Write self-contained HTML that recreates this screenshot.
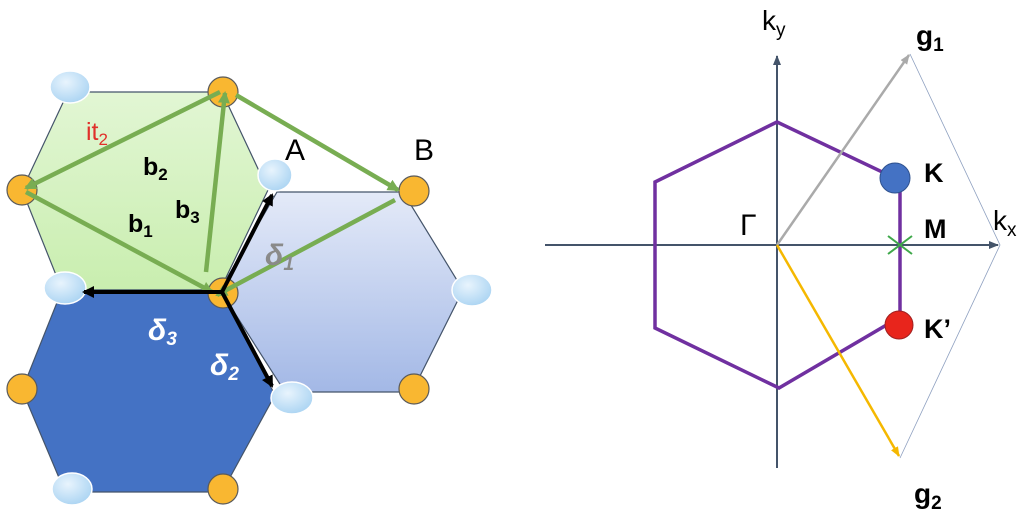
<!DOCTYPE html>
<html><head><meta charset="utf-8"><style>
html,body{margin:0;padding:0;background:#fff;}
svg{display:block;}
text{font-family:"Liberation Sans",sans-serif;}
</style></head><body>
<svg width="1024" height="512" viewBox="0 0 1024 512" xmlns="http://www.w3.org/2000/svg">
<defs>
<linearGradient id="lb" x1="0" y1="0" x2="0" y2="1"><stop offset="0" stop-color="#e4eaf8"/><stop offset="1" stop-color="#a3b8e6"/></linearGradient>
<linearGradient id="lg" x1="0" y1="0" x2="0" y2="1"><stop offset="0" stop-color="#e2f6d4"/><stop offset="1" stop-color="#c9eeaf"/></linearGradient>
<radialGradient id="bc" cx="0.4" cy="0.35" r="0.7"><stop offset="0" stop-color="#e8f4fd"/><stop offset="1" stop-color="#a9d3f2"/></radialGradient>
<marker id="ag" markerWidth="12" markerHeight="12" refX="10" refY="6" orient="auto" markerUnits="userSpaceOnUse"><path d="M0,0 L12,6 L0,12 z" fill="#78ad52"/></marker>
<marker id="ak" markerWidth="12" markerHeight="12" refX="10" refY="6" orient="auto" markerUnits="userSpaceOnUse"><path d="M0,0 L12,6 L0,12 z" fill="#000"/></marker>
<marker id="ad" markerWidth="10" markerHeight="10" refX="9" refY="5" orient="auto" markerUnits="userSpaceOnUse"><path d="M0,1 L10,5 L0,9 z" fill="#44546a"/></marker>
<marker id="agr" markerWidth="10" markerHeight="10" refX="9" refY="5" orient="auto" markerUnits="userSpaceOnUse"><path d="M0,1 L10,5 L0,9 z" fill="#aaa"/></marker>
<marker id="ay" markerWidth="10" markerHeight="10" refX="9" refY="5" orient="auto" markerUnits="userSpaceOnUse"><path d="M0,1 L10,5 L0,9 z" fill="#f5b800"/></marker>
</defs>
<polygon points="277,192 403,192 463,290 412,392 285,392 220,290" fill="url(#lb)" stroke="#44546a" stroke-width="1.2"/>
<polygon points="68,92 222,92 268,190 220,290 62,290 22,190" fill="url(#lg)" stroke="#44546a" stroke-width="1.2"/>
<polygon points="62,290 220,290 275,395 222,492 65,492 22,390" fill="#4472c4" stroke="#44546a" stroke-width="1.2"/>
<g stroke="#fff" stroke-width="1.5" fill="url(#bc)">
<ellipse cx="70" cy="87" rx="20" ry="16"/>
<ellipse cx="275" cy="175" rx="17" ry="16"/>
<ellipse cx="65" cy="288" rx="21" ry="16"/>
<ellipse cx="472" cy="290" rx="20" ry="16"/>
<ellipse cx="292" cy="398" rx="21" ry="16"/>
<ellipse cx="72" cy="489" rx="20" ry="16"/>
</g>
<g fill="#f9b731" stroke="#5a5a5a" stroke-width="1.2">
<circle cx="223" cy="92" r="15"/>
<circle cx="22" cy="190" r="15"/>
<circle cx="414" cy="191" r="15"/>
<circle cx="223" cy="293" r="15"/>
<circle cx="22" cy="389" r="15"/>
<circle cx="414" cy="389" r="15"/>
<circle cx="223" cy="489" r="15"/>
</g>
<g stroke="#78ad52" stroke-width="4.5" fill="none">
<line x1="220" y1="92" x2="26" y2="188" marker-end="url(#ag)"/>
<line x1="26" y1="192" x2="212" y2="292" marker-end="url(#ag)"/>
<line x1="206" y1="272" x2="225" y2="93" marker-end="url(#ag)"/>
<line x1="236" y1="95" x2="398" y2="190" marker-end="url(#ag)"/>
<line x1="395" y1="200" x2="217" y2="295" marker-end="url(#ag)"/>
</g>
<g stroke="#000" stroke-width="4">
<line x1="222" y1="292" x2="272" y2="195" marker-end="url(#ak)"/>
<line x1="222" y1="292" x2="84" y2="292" marker-end="url(#ak)"/>
<line x1="222" y1="292" x2="272" y2="386" marker-end="url(#ak)"/>
</g>
<text x="86" y="140" fill="#e0302a" font-size="25">it<tspan font-size="17" dy="5">2</tspan></text>
<text x="143" y="175" font-size="25" font-weight="bold">b<tspan font-size="17" dy="5">2</tspan></text>
<text x="128" y="232" font-size="25" font-weight="bold">b<tspan font-size="17" dy="5">1</tspan></text>
<text x="175" y="218" font-size="25" font-weight="bold">b<tspan font-size="17" dy="5">3</tspan></text>
<text x="285" y="160" font-size="30">A</text>
<text x="414" y="160" font-size="30">B</text>
<text x="265" y="265" font-size="30" font-weight="bold" font-style="italic" fill="#8a8a8a" font-family="Liberation Serif,serif">δ<tspan font-size="19" dy="5">1</tspan></text>
<text x="148" y="340" font-size="30" font-weight="bold" font-style="italic" fill="#fff" font-family="Liberation Serif,serif">δ<tspan font-size="19" dy="5">3</tspan></text>
<text x="210" y="375" font-size="30" font-weight="bold" font-style="italic" fill="#fff" font-family="Liberation Serif,serif">δ<tspan font-size="19" dy="5">2</tspan></text>

<line x1="545" y1="245" x2="998" y2="245" stroke="#44546a" stroke-width="2" marker-end="url(#ad)"/>
<line x1="777" y1="468" x2="777" y2="56" stroke="#44546a" stroke-width="2" marker-end="url(#ad)"/>
<polygon points="777,122 895,178 900,178 900,320 895,320 779,388 655,328 655,182" fill="none" stroke="#7030a0" stroke-width="3.5"/>
<line x1="777" y1="245" x2="909" y2="55" stroke="#aaa" stroke-width="2.5" marker-end="url(#agr)"/>
<line x1="777" y1="245" x2="899" y2="456" stroke="#f5b800" stroke-width="2.5" marker-end="url(#ay)"/>
<polyline points="910,54 1000,245 900,458" fill="none" stroke="#8ea0c0" stroke-width="0.8"/>
<circle cx="895" cy="178" r="15" fill="#4472c4" stroke="#2f528f" stroke-width="1"/>
<circle cx="899" cy="325" r="14" fill="#e8251c" stroke="#a02020" stroke-width="1"/>
<g stroke="#3fa84a" stroke-width="2"><line x1="888" y1="236" x2="912" y2="254"/><line x1="888" y1="254" x2="912" y2="236"/></g>
<text x="762" y="30" font-size="28">k<tspan font-size="19" dy="6">y</tspan></text>
<text x="916" y="45" font-size="28" font-weight="bold">g<tspan font-size="19" dy="6">1</tspan></text>
<text x="924" y="182" font-size="27" font-weight="bold">K</text>
<text x="924" y="238" font-size="27" font-weight="bold">M</text>
<text x="993" y="230" font-size="28">k<tspan font-size="19" dy="6">x</tspan></text>
<text x="740" y="235" font-size="30" font-family="Liberation Serif,serif">Γ</text>
<text x="924" y="338" font-size="27" font-weight="bold">K’</text>
<text x="914" y="503" font-size="28" font-weight="bold">g<tspan font-size="19" dy="6">2</tspan></text>
</svg>
</body></html>
